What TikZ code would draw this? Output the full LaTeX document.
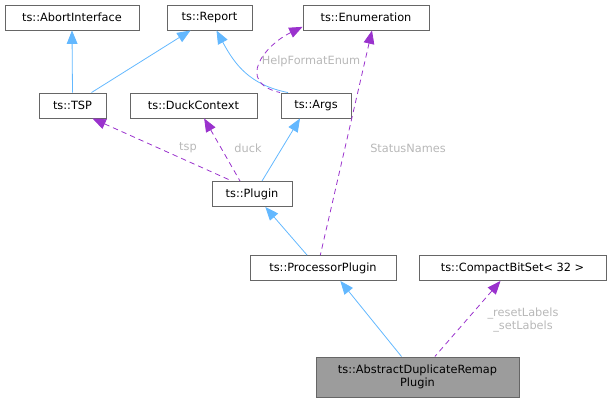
\documentclass[tikz,border=0pt]{standalone}
\usepackage{fontspec}
\setmainfont{DejaVu Sans}
\usepackage{xcolor}
\usetikzlibrary{arrows.meta}

\definecolor{inhblue}{HTML}{63B8FF}
\definecolor{usepurple}{HTML}{9A32CD}
\definecolor{boxgray}{HTML}{666666}
\definecolor{lblgray}{HTML}{B8B8B8}

\begin{document}
\begin{tikzpicture}[
    x=0.75pt,y=-0.75pt,
    font=\fontsize{8.5}{10}\selectfont,
    cls/.style={draw=boxgray,fill=white,minimum height=18.75pt,inner sep=2pt,align=center,line width=0.7pt},
    inh/.style={{Triangle[length=10pt,width=8pt]}-,inhblue,line width=0.6pt},
    use/.style={{Triangle[length=10pt,width=8pt]}-,usepurple,dashed,dash pattern=on 4pt off 3pt,line width=0.6pt},
    lbl/.style={text=lblgray,inner sep=1pt,align=center}
]
\useasboundingbox (0,0) rectangle (611,404);

% top row
\node[cls,minimum width=100.5pt] (abort) at (72,17.5) {ts::AbortInterface};
\node[cls,minimum width=63.75pt] (report) at (209.5,17.5) {ts::Report};
\node[cls,minimum width=94.5pt] (enum) at (366,17.5) {ts::Enumeration};

% second row
\node[cls,minimum width=50.25pt] (tsp) at (72.5,105.5) {ts::TSP};
\node[cls,minimum width=95.25pt] (duck) at (193.5,105.5) {ts::DuckContext};
\node[cls,minimum width=52.5pt] (args) at (316,105.5) {ts::Args};

% middle
\node[cls,minimum width=60pt] (plugin) at (252,194) {ts::Plugin};
\node[cls,minimum width=109.5pt] (proc) at (323,268) {ts::ProcessorPlugin};
\node[cls,minimum width=140.25pt] (bitset) at (512.5,268) {ts::CompactBitSet< 32 >};

% bottom
\node[cls,fill=boxgray!65,minimum width=152.25pt,minimum height=30pt,inner sep=1pt] (main) at (417.5,377) {ts::AbstractDuplicateRemap\\Plugin};

% inheritance
\draw[inh] (abort.south) -- (tsp.north);
\draw[inh] ([xshift=-14.25pt]report.south) -- ([xshift=14.25pt]tsp.north);
\draw[inh] ([xshift=5.25pt]report.south) .. controls (235,65) and (250,85) .. ([xshift=-21pt]args.north);
\draw[inh] ([xshift=-12pt]args.south) -- ([xshift=7.5pt]plugin.north);
\draw[inh] ([xshift=10pt]plugin.south) -- ([xshift=-12pt]proc.north);
\draw[inh] ([xshift=13pt]proc.south) -- ([xshift=-12pt]main.north);

% usage
\draw[use] ([yshift=-7pt]enum.west) .. controls (265,45) and (235,82) .. ([xshift=-27pt]args.north);
\draw[use] ([xshift=15pt]tsp.south) -- ([xshift=-15pt]plugin.north);
\draw[use] ([xshift=8pt]duck.south) -- ([xshift=-9pt]plugin.north);
\draw[use] ([xshift=4.5pt]enum.south) -- ([xshift=-2pt]proc.north);
\draw[use] ([xshift=-9pt]bitset.south) -- ([xshift=13pt]main.north);

% labels
\node[lbl] (hfe) at (311,61) {HelpFormatEnum};
\node[lbl] (ltsp) at (188,148) {tsp};
\node[lbl] (lduck) at (248,148) {duck};
\node[lbl] (lstat) at (408,148) {StatusNames};
\node[lbl] (lbits) at (523,320) {\_resetLabels\\\_setLabels};
\end{tikzpicture}
\end{document}
